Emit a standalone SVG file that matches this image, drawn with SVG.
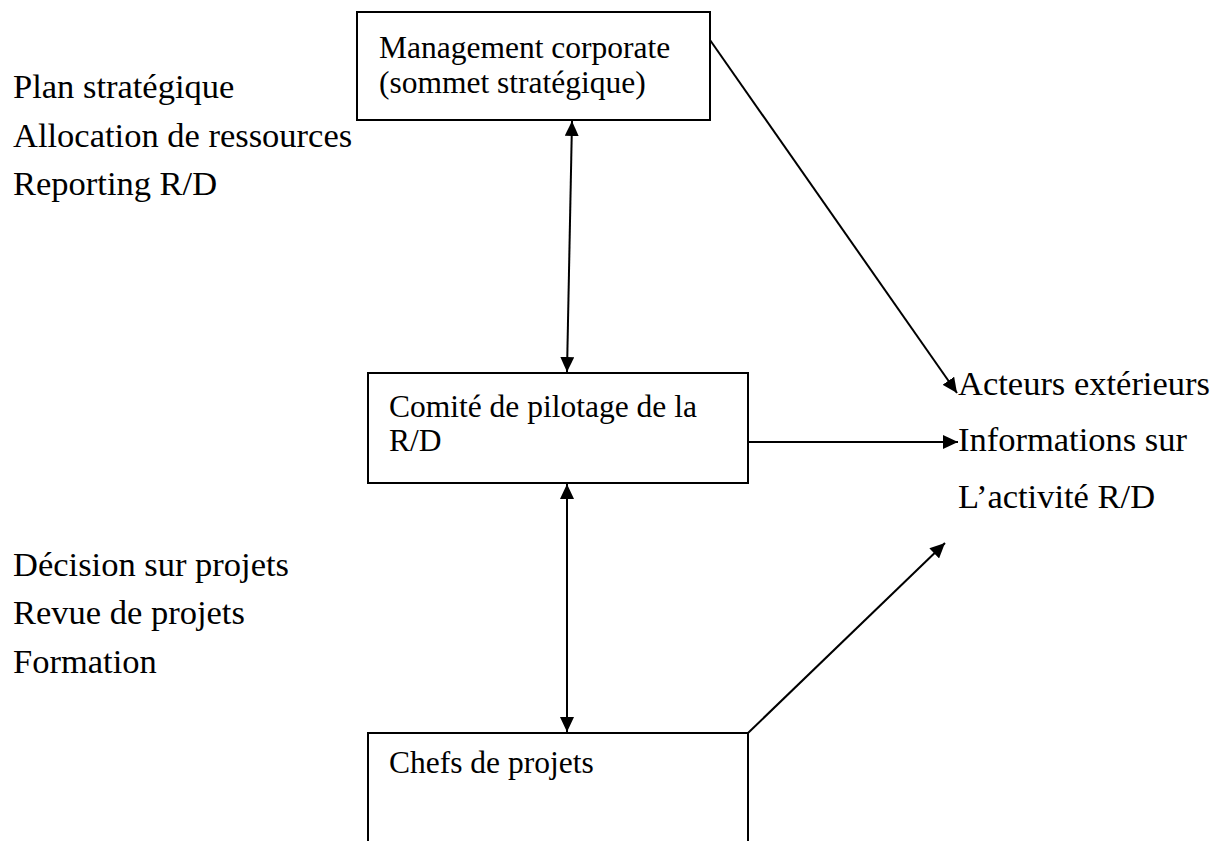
<svg xmlns="http://www.w3.org/2000/svg" width="1218" height="841" viewBox="0 0 1218 841">
<style>
.box{fill:#fff;stroke:#000;stroke-width:2}
.bt{font-family:"Liberation Serif","Times New Roman",serif;font-size:31.5px;fill:#000}
.ot{font-family:"Liberation Serif","Times New Roman",serif;font-size:34.5px;fill:#000}
.con{stroke:#000;stroke-width:2;fill:none}
</style>
<defs>
<marker id="ah" markerUnits="userSpaceOnUse" markerWidth="16" markerHeight="14" refX="15" refY="7" orient="auto-start-reverse" viewBox="0 0 16 14">
<path d="M0,0 L15,7 L0,14 z" fill="#000"/>
</marker>
</defs>
<rect width="1218" height="841" fill="#fff"/>
<g id="connectors">
<line class="con" x1="572" y1="121" x2="567" y2="372" marker-start="url(#ah)" marker-end="url(#ah)"/>
<line class="con" x1="567" y1="484" x2="567" y2="732" marker-start="url(#ah)" marker-end="url(#ah)"/>
<line class="con" x1="710" y1="40" x2="957" y2="393" marker-end="url(#ah)"/>
<line class="con" x1="749" y1="442" x2="958" y2="442" marker-end="url(#ah)"/>
<line class="con" x1="748" y1="733" x2="945" y2="543" marker-end="url(#ah)"/>
</g>
<g id="node-management">
<rect class="box" x="357" y="12" width="353" height="108"/>
<text class="bt" x="379" y="58">Management corporate</text>
<text class="bt" x="379" y="93">(sommet stratégique)</text>
</g>
<g id="node-comite">
<rect class="box" x="368" y="373" width="380" height="110"/>
<text class="bt" x="389" y="417">Comité de pilotage de la</text>
<text class="bt" x="389" y="451">R/D</text>
</g>
<g id="node-chefs">
<rect class="box" x="368" y="733" width="380" height="130"/>
<text class="bt" x="389" y="773">Chefs de projets</text>
</g>
<g id="labels-top">
<text class="ot" x="13" y="98">Plan stratégique</text>
<text class="ot" x="13" y="147">Allocation de ressources</text>
<text class="ot" x="13" y="195">Reporting R/D</text>
</g>
<g id="labels-bottom">
<text class="ot" x="13" y="576">Décision sur projets</text>
<text class="ot" x="13" y="624">Revue de projets</text>
<text class="ot" x="13" y="673">Formation</text>
</g>
<g id="labels-right">
<text class="ot" x="958" y="395">Acteurs extérieurs</text>
<text class="ot" x="958" y="451">Informations sur</text>
<text class="ot" x="958" y="508">L’activité R/D</text>
</g>
</svg>
